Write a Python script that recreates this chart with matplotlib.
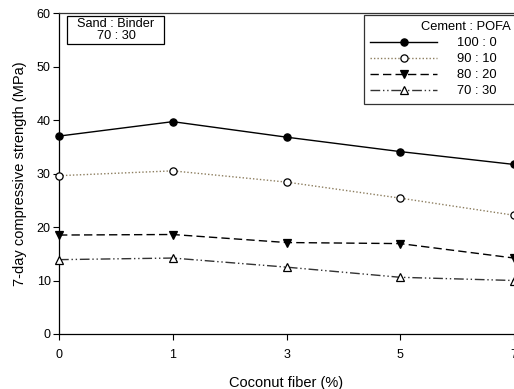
from matplotlib import pyplot as plt
from matplotlib.patches import Rectangle
import numpy as np

plt.rcParams['font.family'] = ['Liberation Sans', 'DejaVu Sans']

fiber = ['0', '1', '3', '5', '7']
labels = ['100 : 0', '90 : 10', '80 : 20', '70 : 30']
s100 = [37.0, 39.7, 36.8, 34.1, 31.7]
s90 = [29.6, 30.5, 28.4, 25.4, 22.2]
s80 = [18.5, 18.6, 17.1, 16.9, 14.2]
s70 = [13.9, 14.2, 12.5, 10.6, 10.0]

tan = '#8c7d5e'
styles = [
    dict(color='black', ls='-', marker='o', mfc='black', mec='black'),
    dict(color=tan, ls=(0, (1, 1.5)), marker='o', mfc='white', mec='black'),
    dict(color='black', ls=(0, (6, 3)), marker='v', mfc='black', mec='black'),
    dict(color='#333333', ls=(0, (7, 2, 1, 2, 1, 2)), marker='^', mfc='white', mec='black'),
]

fig = plt.figure(figsize=(5.14, 3.89), dpi=100)
ax = fig.add_axes([0.1148, 0.1414, 0.8852, 0.825])

x = np.arange(len(fiber))
handles = []
for ys, lab, st in zip([s100, s90, s80, s70], labels, styles):
    ln, = ax.plot(x, ys, lw=1, ms=5.2, mew=0.9, label=lab, clip_on=False, zorder=3, **st)
    handles.append(ln)

ax.set_xlim(0, 4)
ax.set_ylim(0, 60)
ax.set_xticks(x)
ax.set_xticklabels(fiber)
ax.set_yticks(range(0, 61, 10))
ax.tick_params(direction='out', length=4, width=0.8, labelsize=9, colors='black')
ax.tick_params(axis='x', pad=6.5)
ax.tick_params(axis='y', pad=2)
ax.spines['right'].set_visible(False)
for s in ['left', 'bottom', 'top']:
    ax.spines[s].set_linewidth(0.9)
ax.spines['top'].set_color('#333333')

ax.set_xlabel('Coconut fiber (%)', fontsize=10.5, labelpad=11)
ax.set_ylabel('7-day compressive strength (MPa)', fontsize=10.5, labelpad=7)

leg = ax.legend(handles=handles, labels=[l + '    ' for l in labels], title='Cement : POFA',
                loc='upper left', bbox_to_anchor=(0.670, 0.994), fontsize=9.3, title_fontsize=9.3,
                handlelength=5.2, handletextpad=1.5, labelspacing=0.3,
                borderpad=0.5, borderaxespad=0, fancybox=False, framealpha=1,
                edgecolor='#333333', alignment='right')
leg.get_frame().set_linewidth(0.9)

ax.add_patch(Rectangle((0.0176, 0.9034), 0.2132, 0.0873, transform=ax.transAxes,
                       fc='white', ec='black', lw=0.9, zorder=5))
ax.text(0.1253, 0.947, 'Sand : Binder\n70 : 30', transform=ax.transAxes, fontsize=9.2,
        ha='center', va='center', multialignment='center', linespacing=1.0, zorder=6)

plt.savefig('out.png')
